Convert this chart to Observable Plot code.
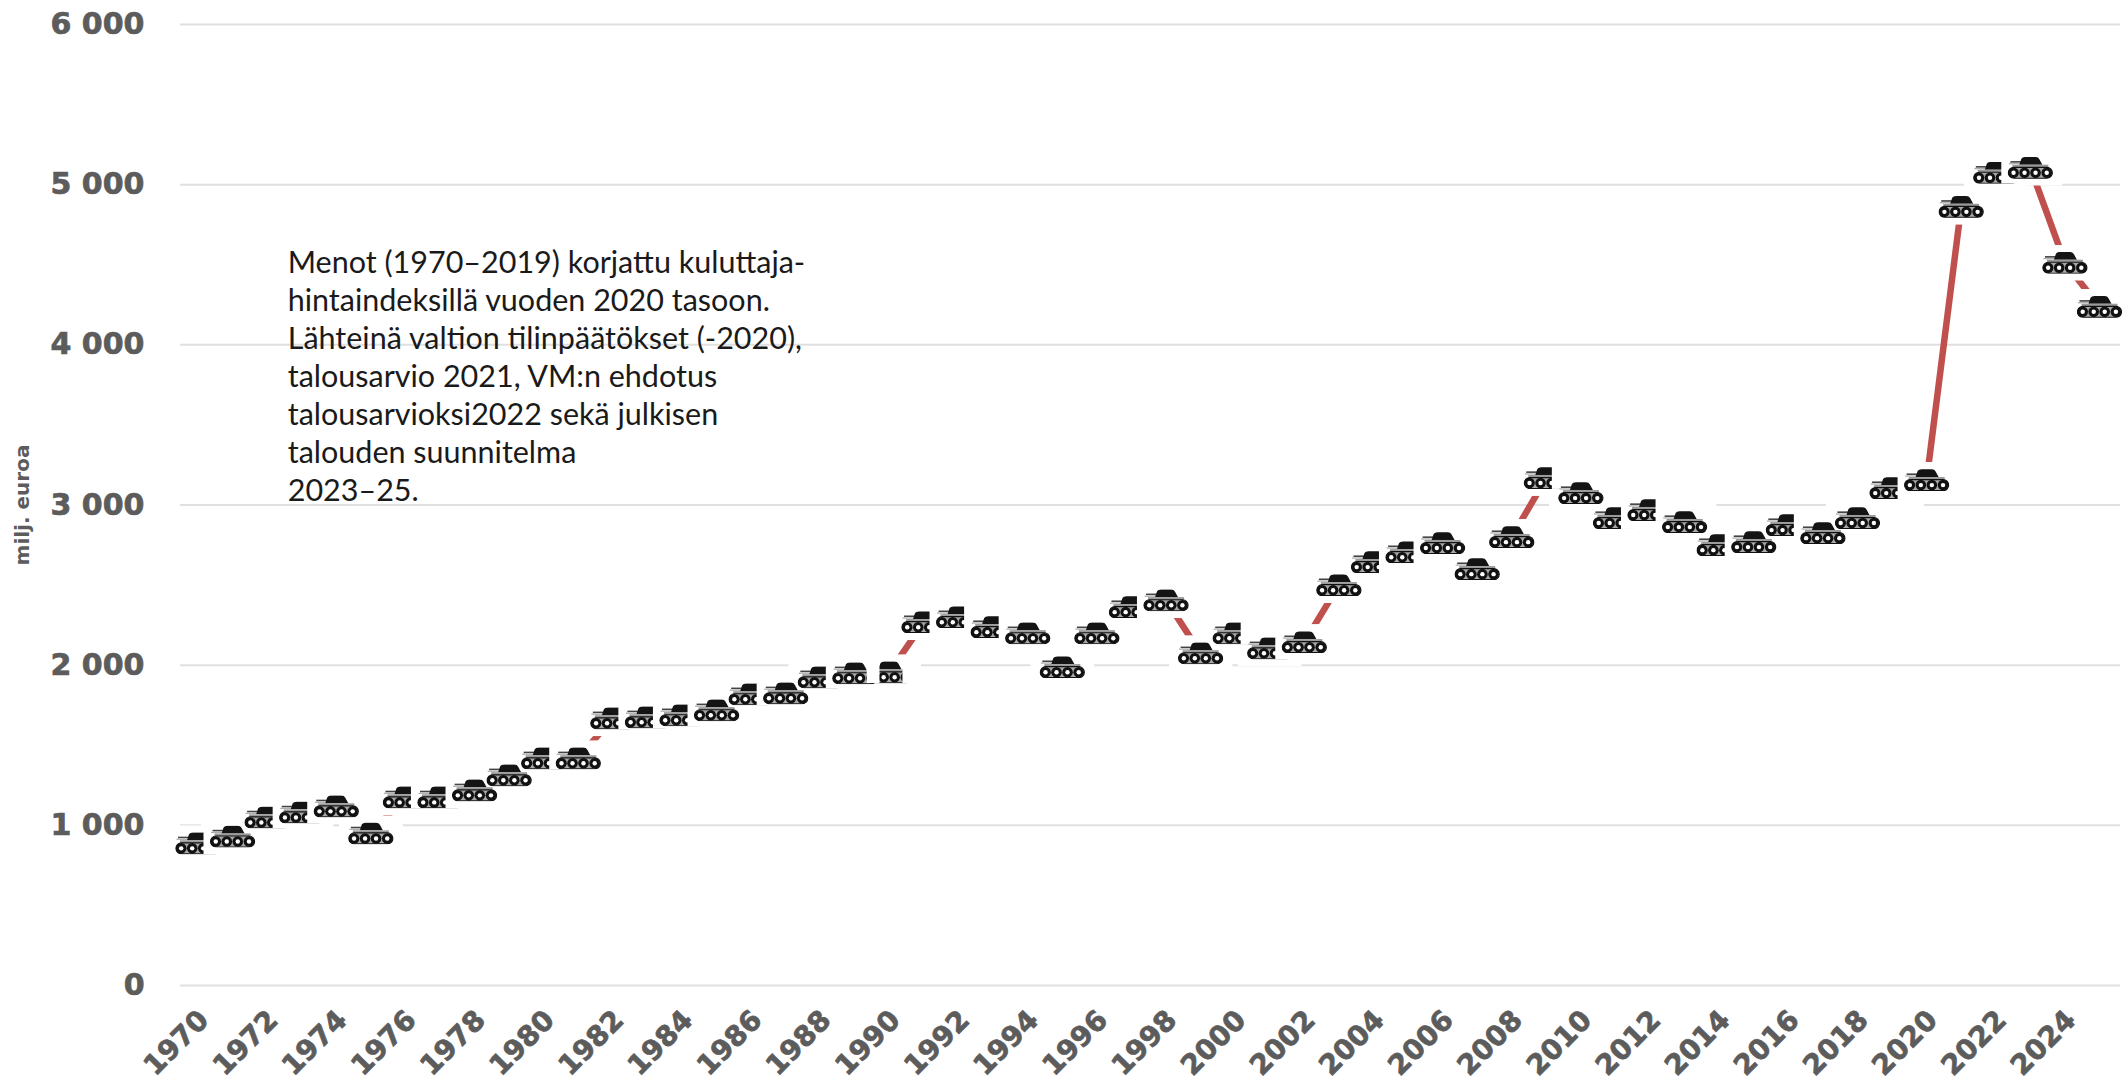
<!DOCTYPE html>
<html>
<head>
<meta charset="utf-8">
<style>
html,body{margin:0;padding:0;background:#fff}
svg{display:block}
g[aria-label$="tick label"]{stroke:#5c5c5c;stroke-width:.7px}
</style>
<script src="https://cdn.jsdelivr.net/npm/d3@7"></script>
<script src="https://cdn.jsdelivr.net/npm/@observablehq/plot@0.6"></script>
</head>
<body>
<div id="chart"></div>
<script>
const years = [1970,1971,1972,1973,1974,1975,1976,1977,1978,1979,1980,1981,1982,1983,1984,1985,1986,1987,1988,1989,1990,1991,1992,1993,1994,1995,1996,1997,1998,1999,2000,2001,2002,2003,2004,2005,2006,2007,2008,2009,2010,2011,2012,2013,2014,2015,2016,2017,2018,2019,2020,2021,2022,2023,2024,2025];
const spending = [888,931,1050,1081,1119,950,1175,1175,1219,1313,1419,1419,1669,1675,1688,1719,1819,1825,1925,1950,1956,2269,2300,2238,2200,1988,2200,2363,2406,2075,2200,2106,2144,2500,2644,2706,2763,2600,2800,3169,3075,2919,2969,2894,2750,2769,2875,2825,2919,3106,3156,4862,5075,5106,4513,4238];
const croppedYears = [1970,1972,1973,1976,1977,1980,1982,1983,1984,1986,1988,1991,1992,1993,1997,2000,2001,2004,2005,2009,2011,2012,2014,2016,2019,2022];
const stubYears = [1990];
const yTicks = [0,1000,2000,3000,4000,5000,6000];
const xTicks = [1970,1972,1974,1976,1978,1980,1982,1984,1986,1988,1990,1992,1994,1996,1998,2000,2002,2004,2006,2008,2010,2012,2014,2016,2018,2020,2022,2024];
const noteLines = ["Menot (1970–2019) korjattu kuluttaja-","hintaindeksillä vuoden 2020 tasoon.","Lähteinä valtion tilinpäätökset (-2020),","talousarvio 2021, VM:n ehdotus","talousarvioksi2022 sekä julkisen","talouden suunnitelma","2023–25."];
const yAxisTitle = "milj. euroa";

const rows = years.map((year, i) => ({
  year,
  value: spending[i],
  kind: stubYears.includes(year) ? "stub" : croppedYears.includes(year) ? "crop" : "full"
}));

const uri = s => "data:image/svg+xml," + encodeURIComponent(s);
const tankBody = `
  <rect x="3" y="4.4" width="12" height="1.6" fill="#444"/>
  <rect x="1.5" y="6.4" width="13" height="1.2" fill="#aaa"/>
  <path d="M12 8 L14 2 Q15 0.3 18 0.3 L28 0.3 Q31 0.3 32 2.5 L35 8 Z" fill="#141414"/>
  <rect x="5" y="8" width="36" height="3" fill="#9a9a9a"/>
  <rect x="1" y="10.6" width="44" height="11" rx="5.5" fill="#a8a8a8" stroke="#111" stroke-width="1.2"/>
  ${[6.2,17.2,28.2,39.4].map(c => `<circle cx="${c}" cy="16.1" r="5.3" fill="#111"/><circle cx="${c}" cy="16.1" r="2.2" fill="#fff"/>`).join("")}`;
const tankSvg = cover => `<svg xmlns="http://www.w3.org/2000/svg" width="46" height="22" viewBox="0 0 46 22">${tankBody}${cover}</svg>`;
const tankSrc = {
  full: uri(tankSvg("")),
  crop: uri(tankSvg(`<rect x="28.5" y="0" width="18" height="22" fill="#fff"/>`)),
  stub: uri(tankSvg(`<rect x="0" y="0" width="13" height="22" fill="#fff"/><rect x="36" y="0" width="10" height="22" fill="#fff"/>`))
};
const maskSrc = uri(`<svg xmlns="http://www.w3.org/2000/svg" width="64" height="36"><rect width="64" height="36" fill="#fff"/></svg>`);

const spaced = d3.formatLocale({decimal: ",", thousands: " ", grouping: [3], currency: ["", ""]}).format(",d");
const grey = "#5c5c5c";
const boldFont = "'DejaVu Sans', sans-serif";

const chart = Plot.plot({
  width: 2122,
  height: 1082,
  marginLeft: 180,
  marginRight: 2,
  marginTop: 24,
  marginBottom: 97,
  style: {background: "#fff", overflow: "hidden"},
  x: {type: "point", domain: years, range: [197.5, 2099], padding: 0},
  y: {domain: [0, 6000], range: [985, 24]},
  marks: [
    Plot.ruleY(yTicks, {stroke: "#e0e0e0", strokeWidth: 2}),
    Plot.line(rows, {x: "year", y: "value", stroke: "#c0504d", strokeWidth: 6.5, strokeLinejoin: "miter"}),
    Plot.image(rows, {x: "year", y: "value", src: () => maskSrc, width: 64, height: 36}),
    Plot.image(rows, {x: "year", y: "value", src: d => tankSrc[d.kind], width: 46, height: 22}),
    Plot.axisY({ticks: yTicks, tickFormat: spaced, tickSize: 0, tickPadding: 36, label: null, fontFamily: boldFont, fontWeight: 700, fontSize: 30, fill: grey}),
    Plot.axisX({ticks: xTicks, tickFormat: d => String(d), tickSize: 0, tickPadding: 30, tickRotate: -45, label: null, fontFamily: boldFont, fontWeight: 700, fontSize: 28, fill: grey, dx: 6}),
    Plot.text([yAxisTitle], {frameAnchor: "left", y: () => 3000, text: d => d, rotate: -90, textAnchor: "middle", dx: -158, fontFamily: boldFont, fontWeight: 700, fontSize: 20, fill: grey}),
    Plot.text([noteLines.join("\n")], {x: () => 1973, y: () => 4620, text: d => d, textAnchor: "start", lineAnchor: "top", dx: -14, lineHeight: 1.25, fontFamily: "Lato, sans-serif", fontSize: 30.5, fill: "#1a1a1a"})
  ]
});
document.getElementById("chart").appendChild(chart);
</script>
</body>
</html>
